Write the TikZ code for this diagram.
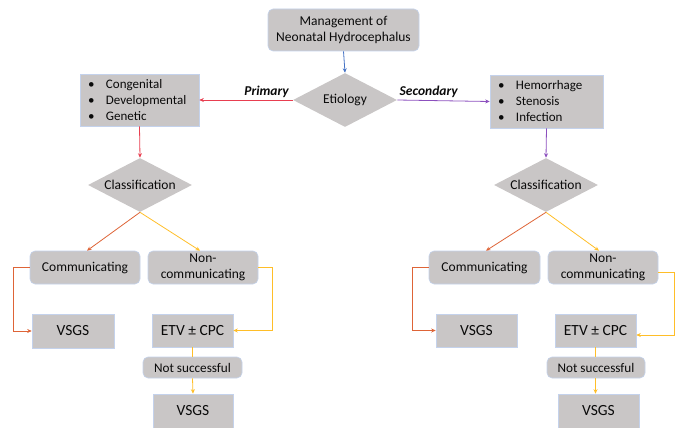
\documentclass[tikz,border=0pt]{standalone}
\usepackage{fontspec}
\setmainfont{Carlito}
\usetikzlibrary{shapes.geometric,arrows.meta,calc}
\definecolor{boxgray}{RGB}{201,198,198}
\definecolor{boxedge}{RGB}{196,210,236}
\definecolor{txt}{RGB}{10,10,10}
\definecolor{cblue}{RGB}{68,114,196}
\definecolor{cred}{RGB}{232,62,80}
\definecolor{cpurple}{RGB}{140,80,190}
\definecolor{corange}{RGB}{222,100,55}
\definecolor{cyellow}{RGB}{255,190,40}
\tikzset{
  base/.style={fill=boxgray,draw=boxedge,line width=0.6pt,inner sep=0pt,text=txt,align=center},
  rbox/.style={base,rectangle,rounded corners=5pt},
  sbox/.style={base,rectangle},
  dbox/.style={base,diamond,draw=none,shape aspect=2},
  listbox/.style={base,rectangle,align=left,inner xsep=8pt,text width=#1,font=\fontsize{13}{16}\selectfont},
  link/.style={line width=0.8pt,-{Stealth[length=4.5pt,width=4pt]}},
  plain/.style={line width=0.8pt},
  f135/.style={font=\fontsize{13.5}{16.5}\selectfont},
  f155/.style={font=\fontsize{15.5}{18}\selectfont},
  lbl/.style={font=\fontsize{13.5}{16}\selectfont\bfseries\itshape,text=txt,inner sep=1pt}
}
\newcommand{\bul}{\makebox[18pt][l]{•}}
\begin{document}
\begin{tikzpicture}[x=1pt,y=-1pt]
\useasboundingbox (0,0) rectangle (681,428);
% top
\node[rbox,f135,minimum width=151pt,minimum height=42pt] (top) at (343.5,30) {Management of\\Neonatal Hydrocephalus};
\node[dbox,f135,minimum width=104pt,minimum height=54pt] (eti) at (345,100) {Etiology};
\node[listbox=103pt,minimum height=52pt] (listL) at (139.5,100) {\bul Congenital\\\bul Developmental\\\bul Genetic};
\node[listbox=97pt,minimum height=53pt] (listR) at (546.5,101.5) {\bul Hemorrhage\\\bul Stenosis\\\bul Infection};
\node[dbox,f135,minimum width=104pt,minimum height=54pt] (clsL) at (140,185) {Classification};
\node[dbox,f135,minimum width=104pt,minimum height=54pt] (clsR) at (546,185) {Classification};
% left branch
\node[rbox,f135,minimum width=110pt,minimum height=33pt] (comL) at (85,267.5) {Communicating};
\node[rbox,f135,minimum width=110pt,minimum height=33pt] (nonL) at (203,267.5) {Non-\\communicating};
\node[sbox,f155,minimum width=82pt,minimum height=34pt] (vsL) at (73,331) {VSGS};
\node[sbox,f155,minimum width=81pt,minimum height=33pt] (etvL) at (192.5,330.5) {ETV ± CPC};
\node[rbox,font=\fontsize{13.2}{15}\selectfont,minimum width=99pt,minimum height=21pt] (nsL) at (192.5,367.5) {Not successful};
\node[sbox,f155,minimum width=80pt,minimum height=34pt] (vs2L) at (193,411) {VSGS};
% right branch
\node[rbox,f135,minimum width=111pt,minimum height=33pt] (comR) at (484.5,267.5) {Communicating};
\node[rbox,f135,minimum width=110pt,minimum height=33pt] (nonR) at (603,267.5) {Non-\\communicating};
\node[sbox,f155,minimum width=81pt,minimum height=33pt] (vsR) at (476.5,330.5) {VSGS};
\node[sbox,f155,minimum width=81pt,minimum height=33pt] (etvR) at (595.5,330.5) {ETV ± CPC};
\node[rbox,font=\fontsize{13.2}{15}\selectfont,minimum width=98pt,minimum height=21pt] (nsR) at (596,367.5) {Not successful};
\node[sbox,f155,minimum width=81pt,minimum height=34pt] (vs2R) at (598.5,411) {VSGS};
% connectors
\draw[link,cblue] (top.south) -- (eti.north);
\draw[link,cred] (eti.west) -- node[lbl,pos=0.28,above=1pt] (prim) {Primary} (listL.east);
\draw[link,cpurple] (eti.east) -- node[lbl,pos=0.34,above=1pt] (sec) {Secondary} (listR.west);
\draw[link,cred] (listL.south) -- (clsL.north);
\draw[link,cpurple] (listR.south) -- (clsR.north);
\draw[link,corange] (clsL.south) -- ([xshift=2pt]comL.north);
\draw[link,cyellow] (clsL.south) -- ([xshift=-3pt]nonL.north);
\draw[link,corange] (clsR.south) -- ([xshift=1.5pt]comR.north);
\draw[link,cyellow] (clsR.south) -- ([xshift=-4pt]nonR.north);
\draw[link,corange] (comL.west) -- ++(-16,0) |- (vsL.west);
\draw[link,cyellow] (nonL.east) -- ++(14,0) |- (etvL.east);
\draw[link,corange] (comR.west) -- ++(-16,0) |- (vsR.west);
\draw[link,cyellow] ([yshift=-4.5pt]nonR.east) -- ++(16,0) |- ([yshift=-4.5pt]etvR.east);
\draw[plain,cyellow] (etvL.south) -- (nsL.north);
\draw[link,cyellow] (nsL.south) -- (vs2L.north);
\draw[plain,cyellow] (etvR.south) -- (etvR.south|-nsR.north);
\draw[link,cyellow] (etvR.south|-nsR.south) -- (etvR.south|-vs2R.north);
\end{tikzpicture}
\end{document}
